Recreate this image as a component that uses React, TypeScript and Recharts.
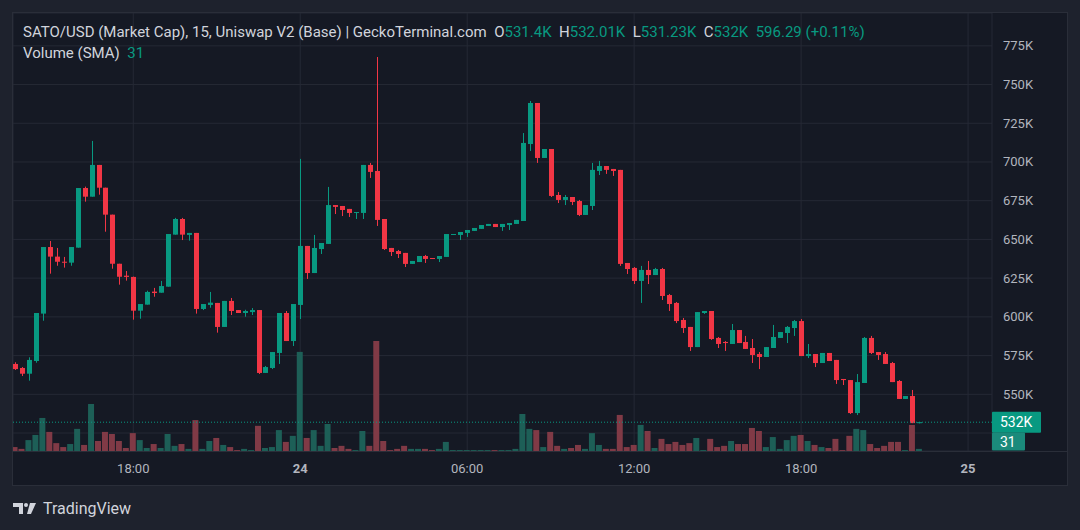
import React from "react";
import { ComposedChart, Bar, Cell, XAxis, YAxis, CartesianGrid, ReferenceLine } from "recharts";

const GREEN = "#089981";
const RED = "#f23645";
const GREEN_VOL = "#1d5f57";
const RED_VOL = "#803a46";
const GRID = "#252935";
const TEXT = "#b2b5be";
const FONT = "Roboto, 'Noto Sans', sans-serif";

// 15 minute candles, first one at 13:45 on the 23rd (hours counted from 23rd 00:00)
const startHour = 13.75;
const stepHour = 0.25;

const opens = [
  569.6, 567.0, 563.3, 571.5, 602.1, 645.1, 638.9, 635.6, 635.0, 644.7,
  683.2, 677.6, 698.1, 683.4, 666.0, 634.3, 626.6, 625.8, 604.0, 607.9,
  616.3, 615.6, 619.5, 653.1, 663.2, 652.9, 654.2, 605.1, 607.7, 609.0,
  593.5, 610.3, 604.4, 602.5, 603.1, 604.4, 563.8, 567.0, 576.7, 602.5,
  584.4, 607.7, 645.8, 628.3, 643.8, 647.1, 672.2, 671.6, 669.7, 667.1,
  667.1, 698.1, 694.2, 663.2, 644.5, 642.5, 641.3, 634.2, 635.4, 639.3,
  638.0, 637.4, 638.7, 652.9, 652.9, 654.2, 655.5, 656.8, 658.7, 660.0,
  658.0, 659.3, 660.0, 661.9, 711.6, 738.1, 702.6, 708.4, 678.7, 675.5,
  677.4, 674.8, 665.8, 671.6, 694.2, 697.4, 695.5, 694.9, 634.8, 631.6,
  623.2, 630.3, 627.0, 630.9, 614.1, 609.0, 598.0, 593.5, 580.5, 602.5,
  603.8, 586.4, 583.8, 582.5, 591.5, 583.8, 579.9, 576.0, 574.1, 579.9,
  586.4, 589.6, 592.8, 597.3, 574.7, 576.0, 570.2, 576.7, 572.2, 559.9,
  559.2, 537.9, 557.3, 586.4, 577.3, 576.0, 570.2, 558.6, 547.0, 548.9,
  531.4,
];
const highs = [
  570.7, 567.6, 573.9, 602.5, 645.1, 649.0, 644.5, 638.7, 645.1, 683.2,
  684.1, 713.6, 698.1, 683.4, 666.0, 634.3, 629.6, 626.0, 608.3, 616.9,
  618.7, 623.2, 653.5, 663.9, 663.9, 654.2, 654.2, 608.3, 616.1, 609.0,
  610.3, 612.2, 604.4, 604.6, 605.7, 604.4, 568.3, 577.3, 602.5, 603.8,
  608.3, 702.0, 645.8, 652.9, 647.7, 683.9, 672.2, 671.6, 669.7, 667.7,
  698.1, 699.4, 767.8, 663.2, 644.5, 643.2, 641.3, 636.1, 639.3, 640.0,
  638.0, 639.3, 653.5, 653.5, 654.8, 656.1, 657.4, 659.3, 660.0, 660.0,
  660.0, 660.6, 662.6, 718.7, 739.4, 738.1, 708.4, 708.4, 680.6, 678.7,
  677.4, 675.5, 672.2, 699.4, 700.7, 697.4, 695.5, 694.9, 634.8, 632.2,
  632.9, 636.1, 631.6, 631.6, 614.8, 609.6, 599.3, 593.5, 603.1, 603.8,
  603.8, 587.0, 584.4, 595.4, 591.5, 587.7, 585.7, 577.3, 580.5, 594.8,
  590.2, 594.1, 598.0, 598.6, 582.5, 576.0, 576.7, 576.7, 572.2, 559.9,
  559.2, 563.1, 587.0, 587.7, 577.3, 577.3, 570.9, 559.2, 548.9, 552.8,
  532.01,
];
const lows = [
  565.7, 561.8, 558.8, 570.4, 597.5, 627.9, 633.0, 631.8, 633.0, 644.7,
  674.4, 677.6, 678.9, 655.0, 631.1, 620.8, 623.4, 598.2, 598.8, 607.9,
  613.0, 615.6, 619.5, 653.1, 649.6, 649.2, 602.1, 604.4, 605.9, 589.8,
  593.5, 601.2, 602.5, 600.1, 601.2, 563.1, 563.8, 566.3, 569.6, 584.4,
  581.2, 598.6, 624.5, 628.3, 640.6, 647.1, 666.4, 665.1, 664.5, 663.2,
  663.2, 689.7, 658.7, 643.2, 639.3, 638.0, 632.2, 634.2, 635.4, 634.8,
  637.4, 635.4, 638.7, 652.9, 649.6, 651.6, 655.5, 656.8, 658.7, 658.0,
  655.5, 656.1, 660.0, 661.9, 707.1, 699.4, 702.6, 677.4, 673.5, 672.2,
  672.2, 665.1, 665.8, 669.0, 691.6, 692.3, 691.0, 632.9, 627.7, 621.2,
  609.0, 621.2, 627.0, 610.9, 603.8, 596.0, 589.6, 578.0, 580.5, 601.9,
  585.1, 579.9, 578.0, 582.5, 583.1, 579.3, 570.2, 566.3, 574.1, 579.9,
  586.4, 583.1, 587.7, 574.7, 573.4, 567.6, 570.2, 571.5, 556.7, 556.0,
  537.3, 536.6, 557.3, 576.0, 572.2, 569.6, 557.9, 547.0, 547.0, 531.4,
  531.23,
];
const closes = [
  566.3, 563.3, 572.2, 602.5, 645.1, 638.9, 635.6, 635.0, 645.1, 683.2,
  677.6, 698.1, 683.4, 666.0, 634.3, 625.9, 625.8, 604.0, 608.3, 616.1,
  615.4, 619.9, 653.5, 663.2, 653.1, 654.2, 605.1, 608.3, 609.2, 593.5,
  610.3, 603.8, 602.5, 603.8, 604.4, 563.8, 567.6, 577.3, 602.5, 584.4,
  608.3, 645.8, 628.3, 644.5, 647.7, 672.2, 671.0, 669.0, 667.1, 667.7,
  698.1, 693.6, 662.6, 643.8, 641.9, 640.6, 634.2, 636.1, 639.3, 637.4,
  637.4, 639.3, 653.5, 653.5, 654.8, 656.1, 657.4, 659.3, 660.0, 658.0,
  660.0, 660.6, 662.6, 712.3, 738.1, 702.6, 708.4, 678.1, 675.5, 677.4,
  674.2, 665.8, 672.2, 694.9, 697.4, 694.9, 694.2, 634.2, 630.9, 623.2,
  630.3, 627.0, 630.9, 613.5, 608.3, 597.3, 592.8, 580.5, 603.1, 603.8,
  585.7, 582.5, 583.1, 591.5, 583.1, 579.3, 575.4, 574.1, 580.5, 587.0,
  590.2, 593.5, 597.3, 574.7, 576.0, 570.2, 576.7, 571.5, 559.2, 559.2,
  537.9, 557.9, 586.4, 576.7, 575.4, 569.6, 557.9, 547.0, 548.9, 531.4,
  532.0,
];
const volumes = [
  13, 7, 36, 53, 109, 63, 26, 13, 23, 73,
  20, 155, 33, 63, 56, 33, 10, 59, 36, 10,
  23, 10, 56, 17, 23, 7, 102, 7, 33, 43,
  20, 13, 3, 7, 3, 83, 10, 13, 69, 30,
  50, 327, 43, 69, 17, 89, 10, 17, 7, 3,
  66, 17, 363, 33, 3, 7, 17, 7, 7, 7,
  3, 7, 30, 3, 3, 3, 3, 3, 3, 3,
  3, 3, 7, 122, 73, 69, 13, 63, 17, 7,
  10, 20, 7, 59, 20, 7, 7, 119, 13, 20,
  86, 66, 10, 40, 23, 30, 20, 26, 43, 3,
  40, 13, 17, 33, 23, 23, 76, 66, 13, 46,
  7, 36, 50, 53, 33, 20, 13, 10, 40, 3,
  50, 73, 69, 23, 10, 17, 30, 30, 3, 86,
  7,
];

const priceTicks = [525, 550, 575, 600, 625, 650, 675, 700, 725, 750, 775];
const timeTicks = [18, 24, 30, 36, 42, 48];
const timeLabels = ["18:00", "24", "06:00", "12:00", "18:00", "25"];
const boldLabels = ["24", "25"];
const lastPrice = 532;
const volumeSma = 31;

const rows = opens.map((open, i) => ({
  t: startHour + i * stepHour,
  open,
  high: highs[i],
  low: lows[i],
  close: closes[i],
  vol: volumes[i],
}));

const Candle = (props: any) => {
  const { x, y, width, height, payload } = props;
  if (!payload || x == null || y == null) return null;
  const { open, close, high, low } = payload;
  const top = Math.min(y, y + height);
  const h = Math.abs(height);
  const py = (v: number) => (high === low ? top : top + ((high - v) / (high - low)) * h);
  const color = close >= open ? GREEN : RED;
  const bTop = py(Math.max(open, close));
  const bBot = py(Math.min(open, close));
  const cx = Math.round(x + width / 2) + 0.5;
  return (
    <g>
      <line x1={cx} x2={cx} y1={top} y2={top + Math.max(h, 1)} stroke={color} strokeWidth={1} />
      <rect x={cx - 2.5} y={bTop} width={5} height={Math.max(1, bBot - bTop)} fill={color} />
    </g>
  );
};

const TimeTick = (props: any) => {
  const { x, y, payload } = props;
  const idx = timeTicks.indexOf(payload.value);
  const label = idx >= 0 ? timeLabels[idx] : "";
  return (
    <text x={x} y={y + 14} textAnchor="middle" fill={TEXT} fontSize={13} fontFamily={FONT}
      fontWeight={boldLabels.includes(label) ? 700 : 400}>
      {label}
    </text>
  );
};

// price labels hidden under the last-price tag, like TradingView does
const PriceTick = (props: any) => {
  const { x, y, payload } = props;
  if (Math.abs(payload.value - lastPrice) < 10) return null;
  return (
    <text x={x + 3} y={y + 4.5} fill={TEXT} fontSize={13} fontFamily={FONT}>
      {`${payload.value}K`}
    </text>
  );
};

const Tag = (props: any) => {
  const { viewBox, text, bg, w, h } = props;
  if (!viewBox) return null;
  const x0 = viewBox.x + viewBox.width;
  return (
    <g>
      <rect x={x0} y={viewBox.y - h / 2} width={w} height={h} fill={bg} rx={1} />
      <text x={x0 + 8} y={viewBox.y + 5} fill="#ffffff" fontSize={14} fontFamily={FONT}>{text}</text>
    </g>
  );
};

const Logo = () => (
  <svg width={26} height={16} viewBox="0 0 26 16">
    <path d="M0 2h10v11H6V6H0z" fill="#d1d4dc" />
    <circle cx={13} cy={4} r={2} fill="#d1d4dc" />
    <path d="M17 2h6l-5 11h-4z" fill="#d1d4dc" />
  </svg>
);

const V = ({ c }: { c: string }) => <span style={{ color: GREEN }}>{c}</span>;

export default function App() {
  return (
    <div style={{ position: "absolute", left: 0, top: 0, width: 1080, height: 530, background: "#1e222d", overflow: "hidden", fontFamily: FONT }}>
      <div style={{ position: "absolute", left: 12, top: 12, width: 1056, height: 474, boxSizing: "border-box", border: "1px solid #2a2e39", background: "#151924" }}>
        <ComposedChart width={1054} height={472} data={rows} margin={{ top: 0, right: 0, bottom: 0, left: 0 }}>
          <CartesianGrid xAxisId="p" yAxisId="p" stroke={GRID} />
          <XAxis xAxisId="p" dataKey="t" type="number" domain={[13.678, 48.86]} allowDataOverflow
            ticks={timeTicks} interval={0} height={34} axisLine={false} tickLine={false} tick={<TimeTick />} />
          <XAxis xAxisId="v" dataKey="t" type="number" domain={[13.678, 48.86]} allowDataOverflow hide />
          <YAxis yAxisId="p" orientation="right" width={75} domain={[513.4, 796.2]} allowDataOverflow
            ticks={priceTicks} interval={0} axisLine={false} tickLine={false} tick={<PriceTick />} />
          <YAxis yAxisId="v" domain={[0, 1445]} allowDataOverflow hide />
          <Bar xAxisId="v" yAxisId="v" dataKey="vol" barSize={6} isAnimationActive={false}>
            {rows.map((r, i) => (
              <Cell key={i} fill={r.close >= r.open ? GREEN_VOL : RED_VOL} />
            ))}
          </Bar>
          <Bar xAxisId="p" yAxisId="p" dataKey={(d: any) => [d.low, d.high]} barSize={5}
            shape={<Candle />} isAnimationActive={false} />
          <ReferenceLine xAxisId="p" yAxisId="p" y={lastPrice} stroke={GREEN} strokeDasharray="1 2"
            label={<Tag text={`${lastPrice}K`} bg={GREEN} w={49} h={21} />} />
          <ReferenceLine xAxisId="v" yAxisId="v" y={volumeSma} stroke="none"
            label={<Tag text={`${volumeSma}`} bg="#1b8a7b" w={33} h={18} />} />
        </ComposedChart>
        <div style={{ position: "absolute", left: 0, top: 438, width: 1054, height: 1, background: "#2a2e39" }} />
      </div>
      <div style={{ position: "absolute", left: 23, top: 23, fontSize: 15, color: "#d1d4dc", whiteSpace: "pre" }}>
        SATO/USD (Market Cap), 15, Uniswap V2 (Base) | GeckoTerminal.com{"  "}O<V c="531.4K" />{"  "}H<V c="532.01K" />{"  "}L<V c="531.23K" />{"  "}C<V c="532K" />{"  "}<V c="596.29 (+0.11%)" />
      </div>
      <div style={{ position: "absolute", left: 23, top: 44, fontSize: 15, color: "#d1d4dc", whiteSpace: "pre" }}>
        Volume (SMA){"  "}<V c={`${volumeSma}`} />
      </div>
      <div style={{ position: "absolute", left: 13, top: 499, display: "flex", alignItems: "center", gap: 4 }}>
        <Logo />
        <span style={{ color: "#d1d4dc", fontSize: 16 }}>TradingView</span>
      </div>
    </div>
  );
}
